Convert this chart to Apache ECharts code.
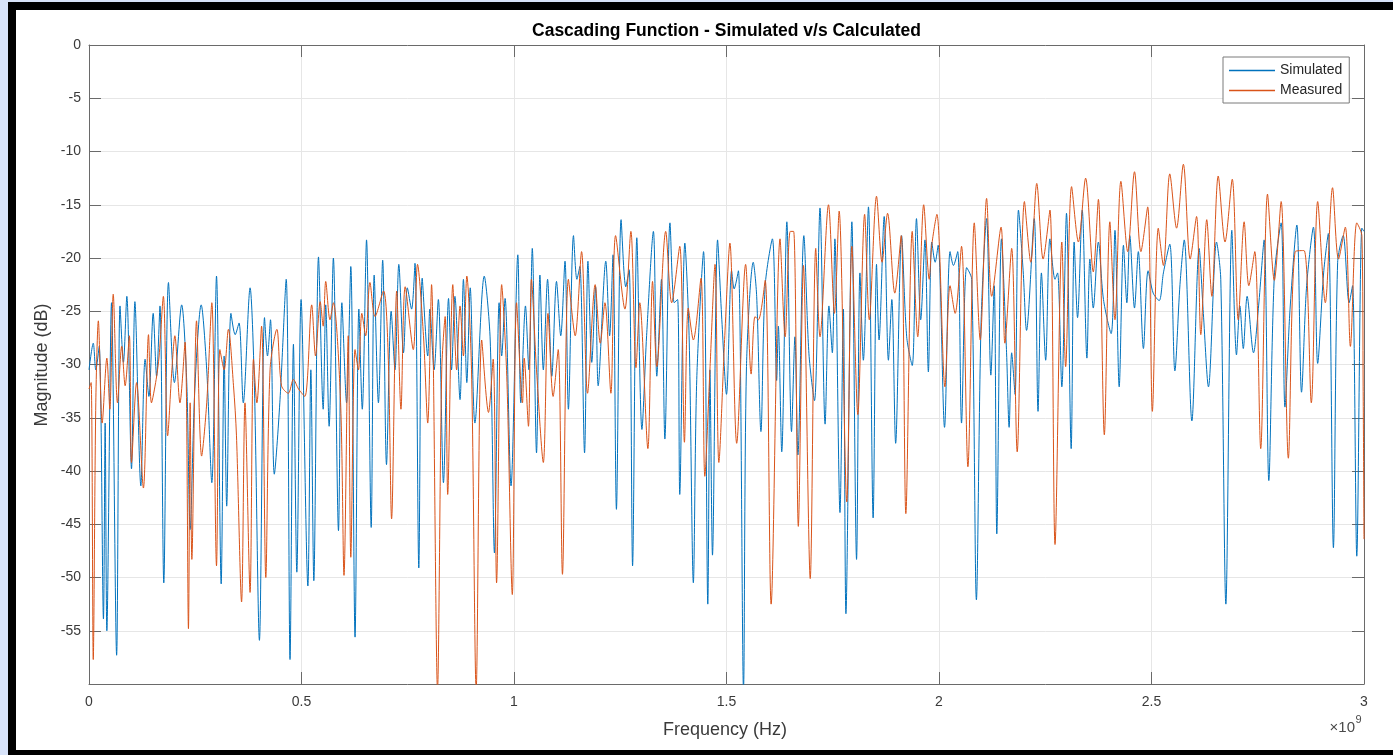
<!DOCTYPE html>
<html>
<head>
<meta charset="utf-8">
<script src="https://cdn.jsdelivr.net/npm/echarts@6/dist/echarts.min.js"></script>
<style>
  html, body { margin:0; padding:0; width:1393px; height:755px; overflow:hidden; background:#d8e3f9; }
  #frame { position:absolute; left:8px; top:2px; width:1385px; height:753px; background:#000; }
  #paper { position:absolute; left:16px; top:10px; width:1377px; height:740px; background:#fff; }
  #chart { position:absolute; left:0; top:0; width:1393px; height:755px; }
</style>
</head>
<body>
<div id="frame"></div>
<div id="paper"></div>
<div id="chart"></div>
<script>
// ---- data (frequency in GHz, i.e. x 10^9 Hz; magnitude in dB) ----
const titleText = 'Cascading Function - Simulated v/s Calculated';
const seriesNames = ['Simulated', 'Measured'];
const xTicks = [0, 0.5, 1, 1.5, 2, 2.5, 3];
const xTickLabels = ['0', '0.5', '1', '1.5', '2', '2.5', '3'];
const yTicks = [-60, -55, -50, -45, -40, -35, -30, -25, -20, -15, -10, -5, 0];
const yTickLabels = ['', '-55', '-50', '-45', '-40', '-35', '-30', '-25', '-20', '-15', '-10', '-5', '0'];

const simulated = [
[0.000,-30.5],[0.010,-28.0],[0.016,-30.5],[0.024,-28.3],[0.034,-53.9],[0.038,-35.5],[0.042,-55.0],[0.053,-24.2],
[0.065,-57.3],[0.073,-24.5],[0.081,-29.8],[0.089,-23.6],[0.100,-39.8],[0.108,-24.1],[0.122,-41.4],[0.132,-29.5],
[0.141,-33.0],[0.151,-25.2],[0.159,-31.1],[0.167,-24.5],[0.176,-50.5],[0.187,-22.3],[0.201,-31.7],[0.218,-24.4],
[0.230,-31.7],[0.238,-45.5],[0.249,-32.3],[0.264,-24.4],[0.277,-30.5],[0.289,-41.1],[0.300,-21.7],[0.311,-50.6],
[0.318,-29.2],[0.324,-43.3],[0.334,-25.2],[0.344,-27.2],[0.353,-26.1],[0.363,-33.6],[0.379,-22.8],[0.389,-31.7],
[0.401,-55.9],[0.413,-25.6],[0.420,-29.2],[0.427,-25.8],[0.436,-40.3],[0.449,-33.6],[0.464,-22.0],[0.473,-57.7],
[0.481,-28.1],[0.489,-49.5],[0.499,-23.9],[0.515,-50.8],[0.522,-30.5],[0.529,-50.3],[0.540,-19.9],[0.551,-34.2],
[0.557,-24.4],[0.565,-35.8],[0.575,-20.0],[0.587,-45.6],[0.595,-24.2],[0.606,-33.6],[0.616,-20.8],[0.626,-55.6],
[0.635,-24.8],[0.643,-34.2],[0.653,-18.3],[0.664,-45.3],[0.671,-21.6],[0.681,-33.6],[0.691,-20.2],[0.700,-39.4],
[0.711,-25.0],[0.720,-30.5],[0.729,-20.6],[0.740,-28.9],[0.749,-22.8],[0.759,-24.8],[0.767,-20.5],[0.776,-49.1],
[0.784,-21.9],[0.797,-29.2],[0.802,-24.8],[0.812,-30.5],[0.822,-23.9],[0.834,-41.1],[0.846,-23.8],[0.853,-30.5],
[0.861,-23.6],[0.873,-33.3],[0.881,-22.0],[0.889,-31.7],[0.897,-22.8],[0.908,-35.5],[0.930,-21.7],[0.944,-27.7],
[0.954,-47.7],[0.965,-24.2],[0.971,-29.2],[0.979,-23.8],[0.993,-41.4],[1.009,-19.7],[1.016,-33.6],[1.027,-24.5],
[1.035,-30.5],[1.043,-19.1],[1.053,-38.3],[1.061,-21.6],[1.069,-30.5],[1.079,-22.0],[1.089,-31.1],[1.100,-22.2],
[1.110,-27.3],[1.120,-20.3],[1.128,-34.2],[1.140,-17.9],[1.148,-22.0],[1.155,-20.8],[1.166,-38.3],[1.174,-20.3],
[1.183,-29.8],[1.192,-22.7],[1.198,-32.0],[1.216,-20.3],[1.225,-27.3],[1.233,-19.7],[1.241,-43.6],[1.252,-16.4],
[1.263,-22.7],[1.271,-21.1],[1.279,-48.9],[1.289,-18.1],[1.301,-36.1],[1.312,-27.3],[1.328,-17.5],[1.336,-31.1],
[1.347,-22.0],[1.355,-37.0],[1.367,-16.7],[1.377,-24.2],[1.385,-23.9],[1.390,-42.2],[1.402,-18.6],[1.412,-27.3],
[1.422,-50.5],[1.430,-31.4],[1.446,-19.4],[1.456,-52.5],[1.461,-30.5],[1.467,-47.9],[1.479,-18.3],[1.489,-25.8],
[1.500,-32.8],[1.512,-21.2],[1.518,-22.9],[1.528,-21.2],[1.540,-60.5],[1.547,-30.2],[1.563,-20.4],[1.571,-23.6],
[1.581,-36.3],[1.591,-22.6],[1.608,-18.2],[1.618,-31.5],[1.622,-26.4],[1.630,-38.2],[1.642,-16.6],[1.653,-36.3],
[1.661,-27.4],[1.668,-38.5],[1.682,-17.9],[1.694,-29.0],[1.707,-33.4],[1.720,-15.3],[1.732,-35.6],[1.741,-24.5],
[1.749,-28.9],[1.755,-18.2],[1.767,-43.9],[1.775,-24.8],[1.781,-53.4],[1.795,-16.6],[1.806,-48.3],[1.814,-21.4],
[1.822,-29.6],[1.834,-15.2],[1.845,-44.4],[1.853,-20.6],[1.859,-27.7],[1.871,-16.1],[1.881,-29.6],[1.889,-23.9],
[1.898,-37.4],[1.912,-17.9],[1.924,-27.4],[1.937,-30.1],[1.947,-16.3],[1.957,-25.8],[1.967,-18.3],[1.975,-30.7],
[1.983,-18.5],[1.991,-20.4],[1.998,-18.8],[2.013,-35.9],[2.026,-19.4],[2.034,-20.7],[2.044,-19.4],[2.053,-35.5],
[2.065,-20.9],[2.077,-22.0],[2.088,-52.1],[2.099,-26.1],[2.112,-16.3],[2.122,-31.0],[2.130,-22.6],[2.136,-45.9],
[2.147,-18.2],[2.159,-28.9],[2.165,-35.9],[2.171,-28.9],[2.179,-32.8],[2.187,-15.5],[2.198,-21.2],[2.206,-26.8],
[2.224,-16.3],[2.233,-34.4],[2.241,-21.4],[2.251,-29.6],[2.261,-18.2],[2.273,-22.0],[2.279,-21.4],[2.289,-32.1],
[2.300,-15.8],[2.311,-37.9],[2.318,-18.5],[2.326,-25.6],[2.337,-15.5],[2.348,-29.4],[2.355,-20.1],[2.363,-24.7],
[2.375,-18.5],[2.387,-23.9],[2.405,-27.1],[2.414,-17.4],[2.424,-32.1],[2.434,-18.8],[2.442,-24.2],[2.449,-17.9],
[2.460,-24.7],[2.469,-19.4],[2.481,-28.5],[2.492,-21.2],[2.504,-23.3],[2.518,-24.0],[2.528,-21.4],[2.543,-18.7],
[2.555,-30.6],[2.567,-22.5],[2.577,-18.3],[2.595,-35.3],[2.612,-19.1],[2.622,-25.2],[2.634,-32.1],[2.653,-18.5],
[2.663,-22.0],[2.675,-52.5],[2.689,-17.4],[2.700,-29.1],[2.708,-24.5],[2.716,-28.5],[2.725,-23.6],[2.740,-28.9],
[2.752,-24.5],[2.765,-18.3],[2.776,-40.9],[2.789,-21.7],[2.805,-16.7],[2.814,-34.0],[2.826,-24.8],[2.842,-16.9],
[2.853,-32.6],[2.865,-22.6],[2.881,-17.1],[2.891,-29.9],[2.905,-21.4],[2.916,-17.7],[2.928,-47.2],[2.938,-20.4],
[2.951,-17.9],[2.965,-24.2],[2.973,-22.6],[2.983,-48.0],[2.995,-17.2],[3.000,-17.5]
];

const measured = [
[0.000,-32.3],[0.005,-31.7],[0.010,-57.7],[0.016,-33.6],[0.022,-25.9],[0.031,-35.5],[0.042,-29.4],[0.049,-34.2],
[0.057,-23.4],[0.067,-33.6],[0.077,-28.3],[0.085,-32.0],[0.095,-27.3],[0.100,-39.2],[0.112,-31.7],[0.128,-41.6],
[0.140,-27.2],[0.147,-33.6],[0.158,-31.4],[0.165,-29.2],[0.175,-23.6],[0.185,-36.7],[0.195,-30.5],[0.202,-27.3],
[0.214,-33.6],[0.226,-27.9],[0.234,-54.8],[0.238,-33.6],[0.242,-48.3],[0.253,-25.9],[0.265,-38.6],[0.277,-33.6],
[0.289,-24.2],[0.300,-48.9],[0.308,-28.6],[0.318,-30.5],[0.328,-26.7],[0.340,-32.0],[0.347,-36.7],[0.359,-52.3],
[0.367,-33.6],[0.379,-51.4],[0.387,-29.5],[0.395,-33.6],[0.406,-26.4],[0.416,-50.0],[0.426,-30.5],[0.442,-26.7],
[0.453,-32.0],[0.469,-32.7],[0.481,-31.4],[0.493,-32.3],[0.508,-33.0],[0.524,-24.4],[0.533,-29.2],[0.544,-24.1],
[0.551,-26.4],[0.557,-22.2],[0.567,-25.8],[0.575,-24.2],[0.592,-33.6],[0.600,-49.8],[0.610,-27.3],[0.616,-48.1],
[0.626,-28.6],[0.634,-30.5],[0.642,-25.2],[0.651,-27.3],[0.661,-22.3],[0.673,-25.5],[0.693,-23.1],[0.704,-29.2],
[0.712,-44.5],[0.724,-23.1],[0.734,-34.2],[0.744,-22.7],[0.763,-28.6],[0.773,-20.6],[0.787,-27.3],[0.797,-35.5],
[0.806,-22.5],[0.820,-60.5],[0.830,-30.5],[0.838,-25.5],[0.844,-42.2],[0.856,-22.5],[0.865,-30.5],[0.873,-24.5],
[0.881,-29.2],[0.889,-21.7],[0.900,-30.5],[0.911,-60.5],[0.924,-27.7],[0.940,-34.5],[0.951,-29.5],[0.959,-50.5],
[0.971,-22.5],[0.983,-31.1],[0.996,-51.6],[1.006,-24.2],[1.020,-33.6],[1.024,-29.4],[1.034,-35.8],[1.041,-22.0],
[1.053,-30.5],[1.069,-39.2],[1.080,-25.2],[1.092,-33.0],[1.104,-28.6],[1.114,-49.7],[1.128,-22.0],[1.144,-27.3],
[1.159,-19.4],[1.173,-32.7],[1.191,-22.5],[1.203,-28.0],[1.214,-24.2],[1.228,-32.7],[1.239,-17.9],[1.261,-24.8],
[1.275,-17.5],[1.287,-30.3],[1.296,-24.2],[1.315,-37.9],[1.326,-22.2],[1.336,-30.2],[1.357,-17.5],[1.371,-24.2],
[1.390,-18.9],[1.401,-37.3],[1.410,-24.7],[1.422,-27.7],[1.440,-21.9],[1.449,-40.5],[1.461,-30.5],[1.473,-20.6],
[1.482,-39.2],[1.496,-27.3],[1.508,-18.6],[1.524,-37.4],[1.545,-20.6],[1.558,-30.9],[1.567,-25.5],[1.575,-25.8],
[1.591,-22.1],[1.605,-52.5],[1.626,-18.2],[1.638,-27.4],[1.650,-17.5],[1.658,-17.5],[1.669,-45.2],[1.681,-20.7],
[1.697,-50.1],[1.710,-19.1],[1.720,-27.4],[1.740,-15.0],[1.754,-25.2],[1.765,-15.6],[1.783,-42.9],[1.795,-18.9],
[1.809,-34.7],[1.825,-15.9],[1.836,-25.8],[1.853,-14.2],[1.866,-20.4],[1.879,-15.8],[1.896,-23.3],[1.911,-17.9],
[1.922,-44.0],[1.937,-17.5],[1.950,-27.4],[1.964,-15.0],[1.977,-22.0],[1.983,-18.8],[1.995,-15.9],[2.014,-32.1],
[2.026,-22.6],[2.038,-25.2],[2.053,-18.9],[2.068,-39.6],[2.083,-16.7],[2.097,-27.7],[2.112,-14.4],[2.124,-23.6],
[2.146,-17.1],[2.155,-28.0],[2.171,-19.1],[2.184,-38.2],[2.201,-14.7],[2.216,-20.4],[2.230,-13.0],[2.245,-20.1],
[2.261,-15.5],[2.273,-46.9],[2.289,-18.5],[2.298,-30.2],[2.312,-13.3],[2.328,-18.5],[2.345,-12.5],[2.363,-21.3],
[2.375,-14.5],[2.389,-36.6],[2.402,-16.6],[2.414,-25.8],[2.428,-12.8],[2.444,-19.4],[2.460,-11.9],[2.475,-19.4],
[2.491,-15.2],[2.502,-34.4],[2.516,-17.2],[2.528,-20.7],[2.543,-12.1],[2.559,-17.2],[2.575,-11.2],[2.591,-20.1],
[2.606,-16.1],[2.616,-27.2],[2.630,-16.4],[2.642,-23.6],[2.657,-12.3],[2.673,-18.5],[2.690,-12.6],[2.704,-25.8],
[2.718,-16.6],[2.729,-22.6],[2.743,-19.4],[2.757,-37.9],[2.773,-14.0],[2.789,-22.1],[2.805,-14.7],[2.822,-38.8],
[2.838,-19.4],[2.859,-19.3],[2.876,-33.6],[2.891,-14.7],[2.909,-24.2],[2.926,-13.4],[2.940,-20.1],[2.956,-17.1],
[2.968,-28.3],[2.983,-16.7],[2.995,-17.9],[2.998,-32.1],[3.000,-46.4]
];

// ---- chart ----
const FONT = "'Liberation Sans', Arial, Helvetica, sans-serif";
const AXIS = '#6a6a6a';
const chart = echarts.init(document.getElementById('chart'), null, { renderer: 'canvas' });

function xLabel(v) { const i = xTicks.indexOf(Math.round(v * 1000) / 1000); return i >= 0 ? xTickLabels[i] : ''; }
function yLabel(v) { const i = yTicks.indexOf(Math.round(v)); return i >= 0 ? yTickLabels[i] : ''; }

const axisCommon = {
  axisLine: { show: true, onZero: false, lineStyle: { color: AXIS, width: 1 } },
  axisTick: { show: true, inside: true, length: 12, lineStyle: { color: AXIS, width: 1 } }
};

chart.setOption({
  animation: false,
  backgroundColor: 'transparent',
  grid: { left: 89, right: 29, top: 45, bottom: 71, containLabel: false },
  xAxis: [
    Object.assign({
      type: 'value', min: 0, max: 3, interval: 0.5, position: 'bottom',
      axisLabel: { show: true, margin: 11, fontSize: 14, color: '#3a3a3a', fontFamily: FONT, formatter: xLabel, showMinLabel: true, showMaxLabel: true },
      splitLine: { show: true, lineStyle: { color: '#e6e6e6', width: 1 } }
    }, axisCommon),
    Object.assign({
      type: 'value', min: 0, max: 3, interval: 0.5, position: 'top',
      axisLabel: { show: false }, splitLine: { show: false }
    }, axisCommon)
  ],
  yAxis: [
    Object.assign({
      type: 'value', min: -60, max: 0, interval: 5, position: 'left',
      axisLabel: { show: true, margin: 8, fontSize: 14, color: '#3a3a3a', fontFamily: FONT, formatter: yLabel },
      splitLine: { show: true, lineStyle: { color: '#e6e6e6', width: 1 } }
    }, axisCommon),
    Object.assign({
      type: 'value', min: -60, max: 0, interval: 5, position: 'right',
      axisLabel: { show: false }, splitLine: { show: false }
    }, axisCommon)
  ],
  legend: {
    orient: 'vertical', left: 1223, top: 57,
    padding: [6, 7, 5, 6], itemGap: 5, itemWidth: 46, itemHeight: 1.5, icon: 'rect',
    backgroundColor: '#ffffff', borderColor: '#7a7a7a', borderWidth: 1, borderRadius: 0,
    textStyle: { fontSize: 14, color: '#262626', fontFamily: FONT, lineHeight: 15 },
    data: seriesNames
  },
  series: [
    { name: seriesNames[0], type: 'line', data: simulated, showSymbol: false, symbol: 'none', smooth: 0.3,
      clip: true, color: '#0072BD', lineStyle: { color: '#0072BD', width: 1 } },
    { name: seriesNames[1], type: 'line', data: measured, showSymbol: false, symbol: 'none', smooth: 0.3,
      clip: true, color: '#D95319', lineStyle: { color: '#D95319', width: 1 } }
  ],
  graphic: [
    { type: 'text', x: 726.5, y: 31, style: { text: titleText, align: 'center', verticalAlign: 'middle',
      fontSize: 17.5, fontWeight: 'bold', fontFamily: FONT, fill: '#000' } },
    { type: 'text', x: 725, y: 730, style: { text: 'Frequency (Hz)', align: 'center', verticalAlign: 'middle',
      fontSize: 18, fontFamily: FONT, fill: '#3a3a3a' } },
    { type: 'text', x: 42.5, y: 365, rotation: Math.PI / 2, style: { text: 'Magnitude (dB)', align: 'center', verticalAlign: 'middle',
      fontSize: 18, fontFamily: FONT, fill: '#3a3a3a' } },
    { type: 'text', x: 1355, y: 728, style: { text: '\u00d710', align: 'right', verticalAlign: 'middle',
      fontSize: 15, fontFamily: FONT, fill: '#4a4a4a' } },
    { type: 'text', x: 1355.5, y: 720, style: { text: '9', align: 'left', verticalAlign: 'middle',
      fontSize: 11, fontFamily: FONT, fill: '#4a4a4a' } }
  ]
});
</script>
</body>
</html>
